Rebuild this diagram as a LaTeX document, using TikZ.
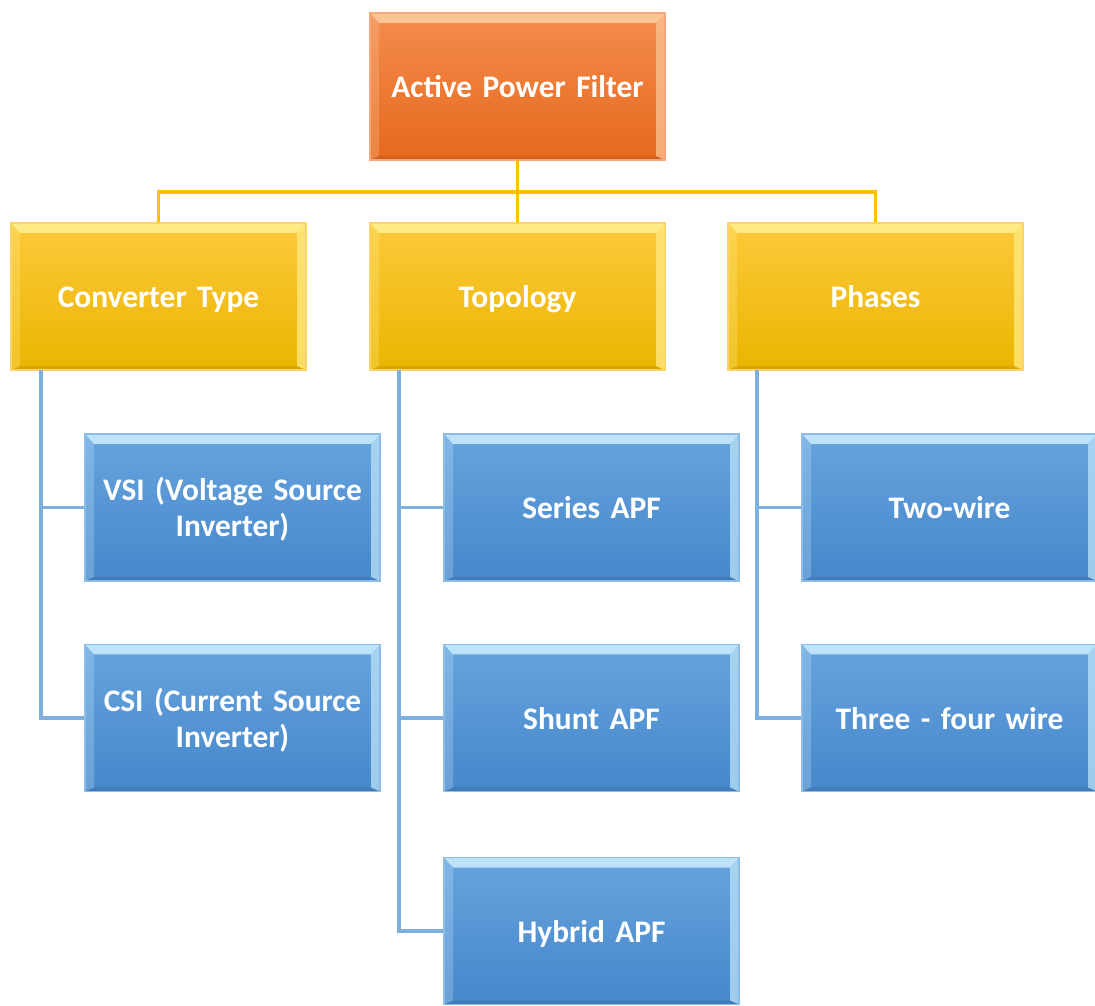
\documentclass[tikz,border=0pt]{standalone}
\usepackage{fontspec}
\setmainfont{Carlito}[WordSpace=0.85]
\newcommand\boxstrut{\rule[-3.4pt]{0pt}{18pt}}
\definecolor{orTop}{HTML}{F58C4E}
\definecolor{orBot}{HTML}{E5691D}
\definecolor{orHi}{HTML}{FBC493}
\definecolor{orEdge}{HTML}{F6A77C}
\definecolor{yeTop}{HTML}{FDC93A}
\definecolor{yeBot}{HTML}{EAB500}
\definecolor{yeHi}{HTML}{FFEB86}
\definecolor{yeEdge}{HTML}{FAD468}
\definecolor{blTop}{HTML}{67A4DE}
\definecolor{blBot}{HTML}{4686CA}
\definecolor{blHi}{HTML}{BCE3F9}
\definecolor{blEdge}{HTML}{8DBDE6}
\definecolor{yeLine}{HTML}{FFC000}
\definecolor{blLine}{HTML}{7DB0DE}
\tikzset{
  bevelbox/.style n args={4}{
    rectangle, minimum width=147.5pt, minimum height=73.5pt, inner sep=0pt,
    text width=142pt, align=center, text=white,
    font=\bfseries\fontsize{15.7}{18}\selectfont,
    execute at begin node=\boxstrut, execute at end node=\boxstrut,
    top color=#1, bottom color=#2, draw=#4, line width=0.6pt,
    path picture={
      \fill[#3] (path picture bounding box.north west) -- (path picture bounding box.north east)
        -- ([xshift=-4.5pt,yshift=-5pt]path picture bounding box.north east)
        -- ([xshift=4.5pt,yshift=-5pt]path picture bounding box.north west) -- cycle;
      \fill[#3,opacity=0.75] (path picture bounding box.north east) -- (path picture bounding box.south east)
        -- ([xshift=-4.5pt,yshift=2pt]path picture bounding box.south east)
        -- ([xshift=-4.5pt,yshift=-5pt]path picture bounding box.north east) -- cycle;
      \fill[#3,opacity=0.3] (path picture bounding box.north west) -- (path picture bounding box.south west)
        -- ([xshift=4.5pt,yshift=2pt]path picture bounding box.south west)
        -- ([xshift=4.5pt,yshift=-5pt]path picture bounding box.north west) -- cycle;
      \fill[black,opacity=0.08] (path picture bounding box.south west) -- (path picture bounding box.south east)
        -- ([xshift=-4.5pt,yshift=2pt]path picture bounding box.south east)
        -- ([xshift=4.5pt,yshift=2pt]path picture bounding box.south west) -- cycle;
    }
  },
  rootbox/.style={bevelbox={orTop}{orBot}{orHi}{orEdge}},
  catbox/.style={bevelbox={yeTop}{yeBot}{yeHi}{yeEdge}},
  leafbox/.style={bevelbox={blTop}{blBot}{blHi}{blEdge}},
  ylink/.style={draw=yeLine, line width=1.6pt},
  blink/.style={draw=blLine, line width=1.6pt},
}
\begin{document}
\begin{tikzpicture}[x=0.5pt,y=0.5pt]
\useasboundingbox (0,0) rectangle (1095,1005);
\clip (0,0) rectangle (1095,1005);
\coordinate (bus) at (517.5,813);
\coordinate (c1) at (41,635);
\coordinate (c2) at (399,635);
\coordinate (c3) at (757,635);
\node[rootbox] (root) at (517.5,918.5) {Active Power Filter};
\node[catbox] (conv) at (158.5,708.5) {Converter Type};
\node[catbox] (topo) at (517.5,708.5) {Topology};
\node[catbox] (phase) at (875.5,708.5) {Phases};
\node[leafbox] (vsi) at (232.5,497.5) {VSI (Voltage Source\\Inverter)};
\node[leafbox] (csi) at (232.5,287) {CSI (Current Source\\Inverter)};
\node[leafbox] (series) at (591.5,497.5) {Series APF};
\node[leafbox] (shunt) at (591.5,287) {Shunt APF};
\node[leafbox] (hybrid) at (591.5,74) {Hybrid APF};
\node[leafbox] (two) at (949.5,497.5) {Two-wire};
\node[leafbox] (three) at (949.5,287) {Three - four wire};
\draw[ylink] (root.south) -- (bus);
\draw[ylink] (bus) -| (conv.north);
\draw[ylink] (bus) -| (phase.north);
\draw[ylink] (bus) -- (topo.north);
\draw[blink] (c1) |- (vsi.west);
\draw[blink] (c1) |- (csi.west);
\draw[blink] (c2) |- (series.west);
\draw[blink] (c2) |- (shunt.west);
\draw[blink] (c2) |- (hybrid.west);
\draw[blink] (c3) |- (two.west);
\draw[blink] (c3) |- (three.west);
\end{tikzpicture}
\end{document}
